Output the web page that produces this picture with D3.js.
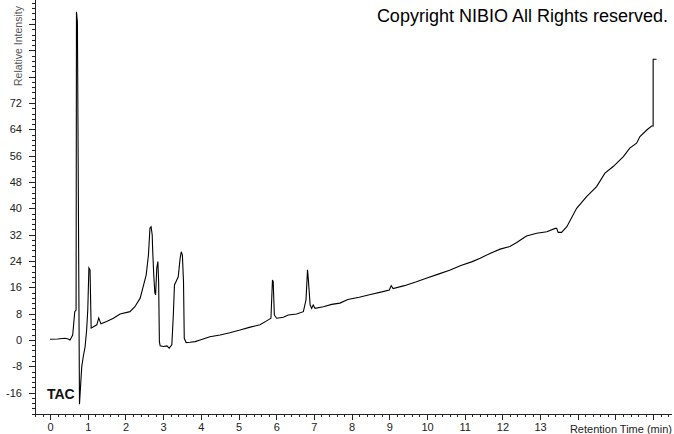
<!DOCTYPE html>
<html>
<head>
<meta charset="utf-8">
<script src="https://cdn.jsdelivr.net/npm/d3@7.9.0/dist/d3.min.js"></script>
<style>
  body { margin: 0; background: #fff; }
  svg { display: block; font-family: "Liberation Sans", Arial, sans-serif; }
</style>
</head>
<body>
<svg id="chart" width="674" height="434"></svg>
<script>
// retention time (min) and relative intensity
const times = [0, 0.2, 0.4, 0.48, 0.53, 0.6, 0.655, 0.69, 0.70, 0.725, 0.78, 0.84, 0.88, 0.93, 0.97, 1.0, 1.03, 1.06, 1.09,
  1.15, 1.24, 1.29, 1.35, 1.5, 1.68, 1.86, 2.12, 2.25, 2.39, 2.47, 2.55, 2.61, 2.65, 2.68, 2.71, 2.72, 2.75, 2.78, 2.80,
  2.83, 2.86, 2.88, 2.90, 2.92, 3.0, 3.10, 3.16, 3.23, 3.27, 3.30, 3.34, 3.40, 3.45, 3.48, 3.51, 3.54, 3.56, 3.61, 3.71,
  3.85, 3.98, 4.24, 4.51, 4.77, 5.04, 5.31, 5.57, 5.79, 5.86, 5.90, 5.92, 5.95, 6.01, 6.19, 6.32, 6.54, 6.72, 6.79, 6.83,
  6.85, 6.90, 6.94, 6.98, 7.03, 7.25, 7.47, 7.69, 7.9, 8.2, 8.5, 8.8, 9.0, 9.05, 9.1, 9.4, 9.7, 10.0, 10.3, 10.6, 10.9,
  11.2, 11.41, 11.67, 11.94, 12.20, 12.38, 12.55, 12.64, 12.91, 13.18, 13.40, 13.44, 13.48, 13.57, 13.71, 13.97, 14.24,
  14.50, 14.72, 14.94, 15.21, 15.38, 15.56, 15.65, 15.83, 15.96, 16.0, 16.0, 16.09];
const intensity = [0.2, 0.3, 0.5, 0.3, 0, 1.5, 8.6, 9.1, 99.7, 96.7, -19.5, -8.1, -5.1, -2, 3, 9.1, 21.9, 21.3, 3.6,
  4, 4.6, 6.7, 4.9, 5.6, 6.6, 7.9, 8.6, 10.1, 12.7, 16.2, 19.8, 25.8, 34, 34.4, 31.9, 27.9, 19.8, 14.2, 13.7,
  21.8, 23.8, 17.7, -0.5, -1.8, -2, -1.8, -2.5, -1.5, 7.6, 16.7, 17.7, 19.2, 24.8, 26.8, 25.8, 17.7, 0.5, -0.8, -0.7,
  -0.5, 0, 1, 1.5, 2.2, 3, 3.9, 4.6, 6.1, 6.6, 18.2, 17.7, 7.6, 6.6, 6.9, 7.6, 7.9, 8.6, 12.2, 21.3,
  18.7, 10.6, 9.6, 10.6, 9.6, 10.1, 10.8, 11.2, 12.3, 13, 13.8, 14.6, 15.2, 16.5, 15.6, 16.5, 17.6, 18.8, 20, 21.2, 22.6,
  23.8, 24.8, 26.3, 27.6, 28.4, 29.6, 30.9, 31.6, 32.4, 32.9, 33.9, 33.9, 32.7, 32.7, 34.4, 40, 43.6,
  46.6, 50.7, 52.7, 55.7, 58.3, 59.8, 61.8, 63.8, 65, 65, 85.3, 85.3];

const yMajor = d3.range(-16, 97, 8);
const yLabelled = d3.range(-16, 73, 8);
const yMinor = d3.range(-22.4, 103.3, 1.6);
const xMajor = d3.range(0, 17, 1);
const xLabelled = d3.range(0, 14, 1);
const xMinor = d3.range(-0.4, 16.5, 0.2);

const svg = d3.select('#chart');

const x = d3.scaleLinear().domain([-0.4, 16.5]).range([35, 672]);
const y = d3.scaleLinear().domain([-22.5, 103.3]).range([414, 0]);

// minor ticks
svg.append('g')
  .attr('transform', 'translate(35,0)')
  .call(d3.axisLeft(y).tickValues(yMinor.map(v => Math.round(v * 10) / 10)).tickSize(3).tickFormat(''))
  .call(g => g.select('.domain').remove());
svg.append('g')
  .attr('transform', 'translate(0,414)')
  .call(d3.axisBottom(x).tickValues(xMinor.map(v => Math.round(v * 10) / 10)).tickSize(3).tickFormat(''))
  .call(g => g.select('.domain').remove());

// major ticks
svg.append('g')
  .attr('transform', 'translate(35,0)')
  .call(d3.axisLeft(y).tickValues(yMajor).tickSize(6).tickPadding(7)
    .tickFormat(d => yLabelled.includes(d) ? d : ''))
  .call(g => g.select('.domain').attr('d', 'M0,0V414'));
svg.append('g')
  .attr('transform', 'translate(0,414)')
  .call(d3.axisBottom(x).tickValues(xMajor).tickSize(6).tickPadding(3)
    .tickFormat(d => xLabelled.includes(d) ? d : ''))
  .call(g => g.select('.domain').attr('d', 'M35,0H672'));

svg.selectAll('.tick text').attr('font-size', 11).attr('fill', '#222')
  .attr('font-family', '"Liberation Sans", Arial, sans-serif');
svg.selectAll('.tick line, .domain').attr('stroke', '#222').attr('shape-rendering', 'crispEdges');

// trace
const pts = times.map((t, i) => [t, intensity[i]]);
const line = d3.line().x(d => x(d[0])).y(d => y(d[1]));
svg.append('path')
  .datum(pts)
  .attr('d', line)
  .attr('fill', 'none')
  .attr('stroke', '#000')
  .attr('stroke-width', 1.1)
  .attr('stroke-linejoin', 'miter');

// texts
svg.append('text')
  .attr('x', 668).attr('y', 22)
  .attr('text-anchor', 'end')
  .attr('font-size', 18)
  .attr('fill', '#000')
  .text('Copyright NIBIO All Rights reserved.');

svg.append('text')
  .attr('transform', 'translate(22,86) rotate(-90)')
  .attr('font-size', 10.5)
  .attr('fill', '#555')
  .text('Relative Intensity');

svg.append('text')
  .attr('x', 672).attr('y', 433)
  .attr('text-anchor', 'end')
  .attr('font-size', 11)
  .attr('fill', '#222')
  .text('Retention Time (min)');

svg.append('text')
  .attr('x', 47).attr('y', 399)
  .attr('font-size', 14)
  .attr('font-weight', 'bold')
  .attr('fill', '#111')
  .text('TAC');
</script>
</body>
</html>
